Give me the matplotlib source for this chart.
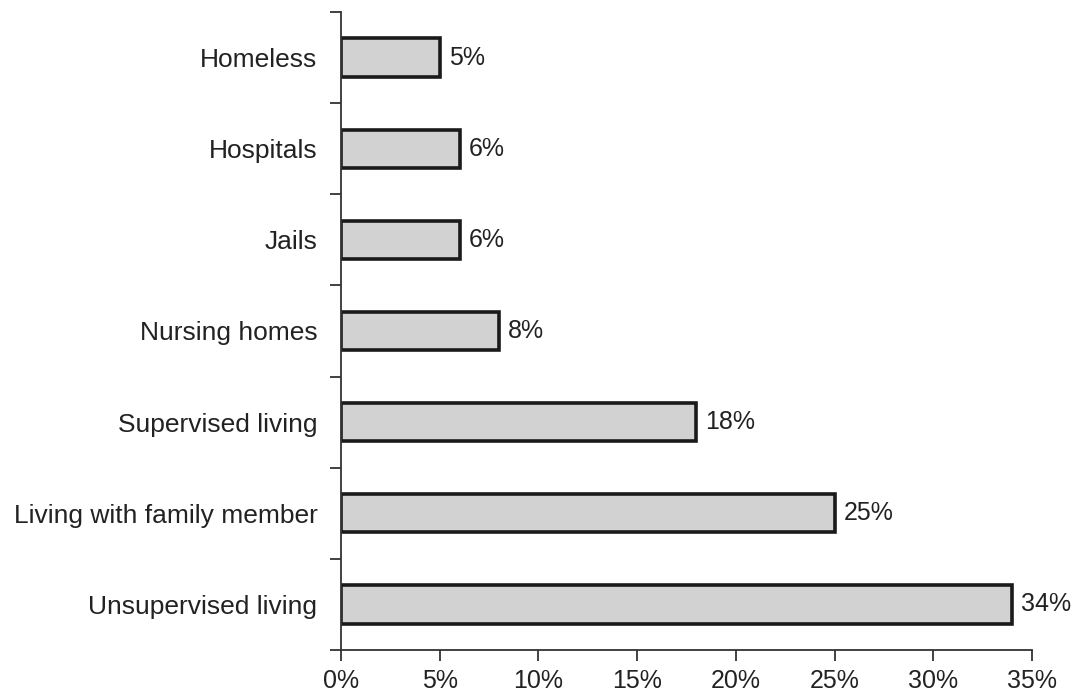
import numpy as np
import matplotlib.pyplot as plt

categories = ['Unsupervised living', 'Living with family member', 'Supervised living',
              'Nursing homes', 'Jails', 'Hospitals', 'Homeless']
values = [34, 25, 18, 8, 6, 6, 5]
xticks = [0, 5, 10, 15, 20, 25, 30, 35]

plt.rcParams['font.family'] = ['Liberation Sans', 'DejaVu Sans']

fig = plt.figure(figsize=(10.81, 6.96), dpi=100)
ax = fig.add_axes([0.3155, 0.0661, 0.6392, 0.9167])

y = np.arange(len(categories))
ax.barh(y, values, height=0.42, color='#d2d2d2', edgecolor='#1a1a1a', linewidth=2.6)
for yi, v in zip(y, values):
    ax.text(v + 0.45, yi, f'{v}%', va='center', ha='left', fontsize=18, color='#222222')

ax.set_xlim(0, 35)
ax.set_ylim(-0.5, len(categories) - 0.5)
ax.set_xticks(xticks)
ax.set_xticklabels([f'{t}%' for t in xticks], fontsize=18, color='#222222')
ax.set_yticks(y)
ax.set_yticklabels(categories, fontsize=19, color='#222222')
ax.tick_params(axis='y', which='major', length=0, pad=17)
ax.set_yticks(np.arange(-0.5, len(categories) + 0.5), minor=True)
ax.tick_params(axis='y', which='minor', length=8, width=1.3, color='#333333')
ax.tick_params(axis='x', length=8, width=1.3, color='#333333', pad=6)

for side in ['top', 'right']:
    ax.spines[side].set_visible(False)
for side in ['left', 'bottom']:
    ax.spines[side].set_linewidth(1.3)
    ax.spines[side].set_color('#333333')

fig.savefig('out.png', dpi=100)
